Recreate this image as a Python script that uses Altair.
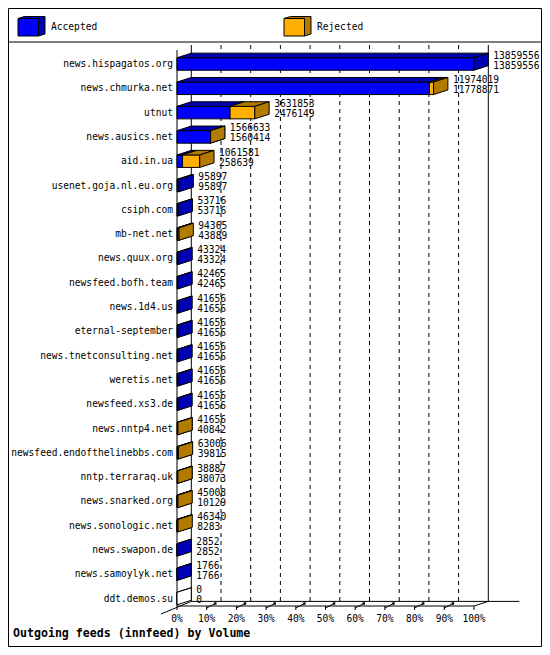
import altair as alt
import pandas as pd

# ---------------- data ----------------
hosts = [
    "news.hispagatos.org", "news.chmurka.net", "utnut", "news.ausics.net",
    "aid.in.ua", "usenet.goja.nl.eu.org", "csiph.com", "mb-net.net",
    "news.quux.org", "newsfeed.bofh.team", "news.1d4.us", "eternal-september",
    "news.tnetconsulting.net", "weretis.net", "newsfeed.xs3.de", "news.nntp4.net",
    "newsfeed.endofthelinebbs.com", "nntp.terraraq.uk", "news.snarked.org",
    "news.sonologic.net", "news.swapon.de", "news.samoylyk.net", "ddt.demos.su",
]
offered = [
    13859556, 11974019, 3631853, 1566633, 1061581, 95897, 53716, 94365,
    43324, 42465, 41656, 41656, 41656, 41656, 41656, 41656,
    63006, 38887, 45008, 46340, 2852, 1766, 0,
]
accepted = [
    13859556, 11778871, 2476149, 1560414, 258639, 95897, 53716, 43889,
    43324, 42465, 41656, 41656, 41656, 41656, 41656, 40842,
    39815, 38073, 10129, 8283, 2852, 1766, 0,
]
pct_ticks = [0, 10, 20, 30, 40, 50, 60, 70, 80, 90, 100]
legend_names = ["Accepted", "Rejected"]
title_text = "Outgoing feeds (innfeed) by Volume"

# ---------------- style / layout ----------------
BLUE, BLUE_D = "#0000FF", "#0000B3"
ORANGE, ORANGE_D = "#FFAF00", "#B37A00"
FONT = "DejaVu Sans Mono"
FS = 9.6

W_TOTAL, H_TOTAL = 534, 639
PAD_L, PAD_T = 169, 37
PLOT_W, PLOT_H = 297, 561
PAD_R = W_TOTAL - PAD_L - PLOT_W
PAD_B = H_TOTAL - PAD_T - PLOT_H
ROW_PX = 24.3
ROW0_PX = 19
DEPTH_X_PX, DEPTH_Y_PX = 14.3, 4.6
FACE_HALF_PX = 6.25
BACK_FLOOR = PLOT_H - DEPTH_Y_PX

XMAX = max(offered)
DXV = DEPTH_X_PX * XMAX / PLOT_W
D0 = -ROW0_PX / ROW_PX
D1 = D0 + PLOT_H / ROW_PX
FH = FACE_HALF_PX / ROW_PX
DY = DEPTH_Y_PX / ROW_PX

XS = alt.Scale(domain=[0, XMAX], nice=False, zero=False)
YS = alt.Scale(domain=[D0, D1], nice=False, zero=False, reverse=True)


def X(f):
    return alt.X(f, type="quantitative", scale=XS, axis=None, stack=None)


def Y(f):
    return alt.Y(f, type="quantitative", scale=YS, axis=None, stack=None)


# ---------------- tables ----------------
rows = pd.DataFrame({"host": hosts, "offered": offered, "accepted": accepted})
rows["r"] = range(len(hosts))
rows["off_s"] = rows["offered"].astype(str)
rows["acc_s"] = rows["accepted"].astype(str)
rows["xl"] = rows["offered"] + DXV

seg_rows = []
for i, (o, a) in enumerate(zip(offered, accepted)):
    seg_rows.append(dict(seg=f"{i}a", kind="Accepted" if a > 0 else "Empty", r=i, x0=0, x1=a))
    if o > a:
        seg_rows.append(dict(seg=f"{i}r", kind="Rejected", r=i, x0=a, x1=o))
segs = pd.DataFrame(seg_rows)
segs["yt"] = segs["r"] - FH
segs["yb"] = segs["r"] + FH

top = pd.concat([
    segs.assign(y=segs["yt"], xa=segs["x0"], xb=segs["x1"]),
    segs.assign(y=segs["yt"] - DY, xa=segs["x0"] + DXV, xb=segs["x1"] + DXV),
], ignore_index=True)
side = pd.concat([
    segs.assign(x=segs["x1"], ya=segs["yt"], yb=segs["yb"]),
    segs.assign(x=segs["x1"] + DXV, ya=segs["yt"] - DY, yb=segs["yb"] - DY),
], ignore_index=True)

grid = pd.DataFrame({"pct": pct_ticks})
grid["xf"] = grid["pct"] / 100 * XMAX
grid["xb"] = grid["xf"] + DXV
grid["xs"] = grid["xf"] + 0.6 * DXV
grid["lab"] = grid["pct"].astype(str) + "%"

one = pd.DataFrame({"k": [0]})

layers = []

# frame + legend separator
layers.append(alt.Chart(one).mark_rect(fillOpacity=0, stroke="black", strokeWidth=1).encode(
    x=alt.value(0.5 - PAD_L), x2=alt.value(W_TOTAL - 0.5 - PAD_L),
    y=alt.value(0.5 - PAD_T), y2=alt.value(H_TOTAL - 0.5 - PAD_T)))
layers.append(alt.Chart(one).mark_rule(color="black").encode(
    x=alt.value(-PAD_L), x2=alt.value(W_TOTAL - PAD_L), y=alt.value(34 - PAD_T)))

# legend (3D box icons)
ICON_PATH = "M-0.964,-0.554L-0.5,-0.696L0.964,-0.696L0.964,0.554L0.5,0.696L0.5,-0.554Z"
for name, left, front, dark in [(legend_names[0], 10, BLUE, BLUE_D),
                                (legend_names[1], 276, ORANGE, ORANGE_D)]:
    ld = pd.DataFrame({"name": [name]})
    layers.append(alt.Chart(ld).mark_point(shape=ICON_PATH, size=784, filled=True, fill=dark,
                                           stroke="black", strokeWidth=1, opacity=1).encode(
        x=alt.value(left + 13.5 - PAD_L), y=alt.value(18.25 - PAD_T)))
    layers.append(alt.Chart(ld).mark_rect(fill=front, stroke="black", strokeWidth=1).encode(
        x=alt.value(left - PAD_L), x2=alt.value(left + 20.5 - PAD_L),
        y=alt.value(10.5 - PAD_T), y2=alt.value(28 - PAD_T)))
    layers.append(alt.Chart(ld).mark_text(align="left", baseline="middle", font=FONT,
                                          fontSize=FS, color="black").encode(
        x=alt.value(left + 33 - PAD_L), y=alt.value(19 - PAD_T), text="name:N"))

# back grid lines
layers.append(alt.Chart(grid).transform_filter("datum.pct > 0 && datum.pct < 100").mark_rule(
    color="black", strokeWidth=1, strokeDash=[4, 4]).encode(
    x=X("xb"), y=alt.value(0), y2=alt.value(BACK_FLOOR)))
layers.append(alt.Chart(grid).transform_filter("datum.pct == 0 || datum.pct == 100").mark_rule(
    color="black", strokeWidth=1).encode(
    x=X("xb"), y=alt.value(0), y2=alt.value(BACK_FLOOR)))

# front axis line and floor
layers.append(alt.Chart(one).mark_rule(color="black").encode(
    x=alt.value(0), y=alt.value(5), y2=alt.value(PLOT_H)))
layers.append(alt.Chart(one).mark_rule(color="black").encode(
    x=alt.value(0), x2=alt.value(PLOT_W), y=alt.value(PLOT_H)))
layers.append(alt.Chart(one).mark_rule(color="black").encode(
    x=alt.value(DEPTH_X_PX), x2=alt.value(PLOT_W + DEPTH_X_PX + 31), y=alt.value(BACK_FLOOR)))
layers.append(alt.Chart(one).mark_rule(color="black").encode(
    x=alt.value(PLOT_W), x2=alt.value(PLOT_W + DEPTH_X_PX),
    y=alt.value(PLOT_H), y2=alt.value(BACK_FLOOR)))
layers.append(alt.Chart(one).mark_rule(color="black").encode(
    x=alt.value(DEPTH_X_PX), x2=alt.value(-16),
    y=alt.value(BACK_FLOOR), y2=alt.value(PLOT_H + 8)))

# ticks
layers.append(alt.Chart(grid).mark_rule(color="black").encode(
    x=X("xf"), y=alt.value(PLOT_H), y2=alt.value(PLOT_H + 4)))
inner = "datum.pct > 0 && datum.pct < 100"
layers.append(alt.Chart(grid).transform_filter(inner).mark_rule(color="black").encode(
    x=X("xf"), x2=alt.X2("xs"), y=alt.value(PLOT_H + 2), y2=alt.value(PLOT_H - 2.5)))
layers.append(alt.Chart(grid).transform_filter(inner).mark_square(
    color="black", size=6, opacity=1, filled=True).encode(
    x=X("xs"), y=alt.value(PLOT_H - 2.5)))

# 3D bars
for kind, front, dark in [("Empty", "white", "white"),
                          ("Accepted", BLUE, BLUE_D),
                          ("Rejected", ORANGE, ORANGE_D)]:
    flt = alt.datum.kind == kind
    layers.append(alt.Chart(segs).transform_filter(flt).mark_rect(
        fill=front, stroke="black", strokeWidth=1).encode(
        x=X("x0"), x2=alt.X2("x1"), y=Y("yt"), y2=alt.Y2("yb")))
    layers.append(alt.Chart(top).transform_filter(flt).mark_area(
        orient="horizontal", fill=dark, stroke="black", strokeWidth=1, opacity=1).encode(
        y=Y("y"), x=X("xa"), x2=alt.X2("xb"), detail="seg:N"))
    layers.append(alt.Chart(side).transform_filter(flt).mark_area(
        orient="vertical", fill=dark, stroke="black", strokeWidth=1, opacity=1).encode(
        x=X("x"), y=Y("ya"), y2=alt.Y2("yb"), detail="seg:N"))

# host labels
layers.append(alt.Chart(rows).mark_text(align="right", baseline="middle", dx=-4,
                                        font=FONT, fontSize=FS, color="black").encode(
    x=alt.value(0), y=Y("r"), text="host:N"))

# value labels
layers.append(alt.Chart(rows).mark_text(align="left", baseline="middle", dx=5, dy=-8.5,
                                        font=FONT, fontSize=FS, color="black").encode(
    x=X("xl"), y=Y("r"), text="off_s:N"))
layers.append(alt.Chart(rows).mark_text(align="left", baseline="middle", dx=5, dy=1.5,
                                        font=FONT, fontSize=FS, color="black").encode(
    x=X("xl"), y=Y("r"), text="acc_s:N"))

# tick labels
layers.append(alt.Chart(grid).mark_text(align="center", baseline="middle",
                                        font=FONT, fontSize=FS, color="black").encode(
    x=X("xf"), y=alt.value(PLOT_H + 13), text="lab:N"))

# title
td = pd.DataFrame({"t": [title_text]})
layers.append(alt.Chart(td).mark_text(align="left", baseline="middle", font=FONT,
                                      fontSize=11.6, fontWeight="bold", color="black").encode(
    x=alt.value(5 - PAD_L), y=alt.value(625.5 - PAD_T), text="t:N"))

chart = alt.layer(*layers).properties(
    width=PLOT_W, height=PLOT_H,
    padding={"left": PAD_L, "top": PAD_T, "right": PAD_R, "bottom": PAD_B},
    autosize=alt.AutoSizeParams(type="none"),
    background="white",
).configure_view(strokeWidth=0)

chart.save("out.html", embed_options={"renderer": "svg", "actions": False})
